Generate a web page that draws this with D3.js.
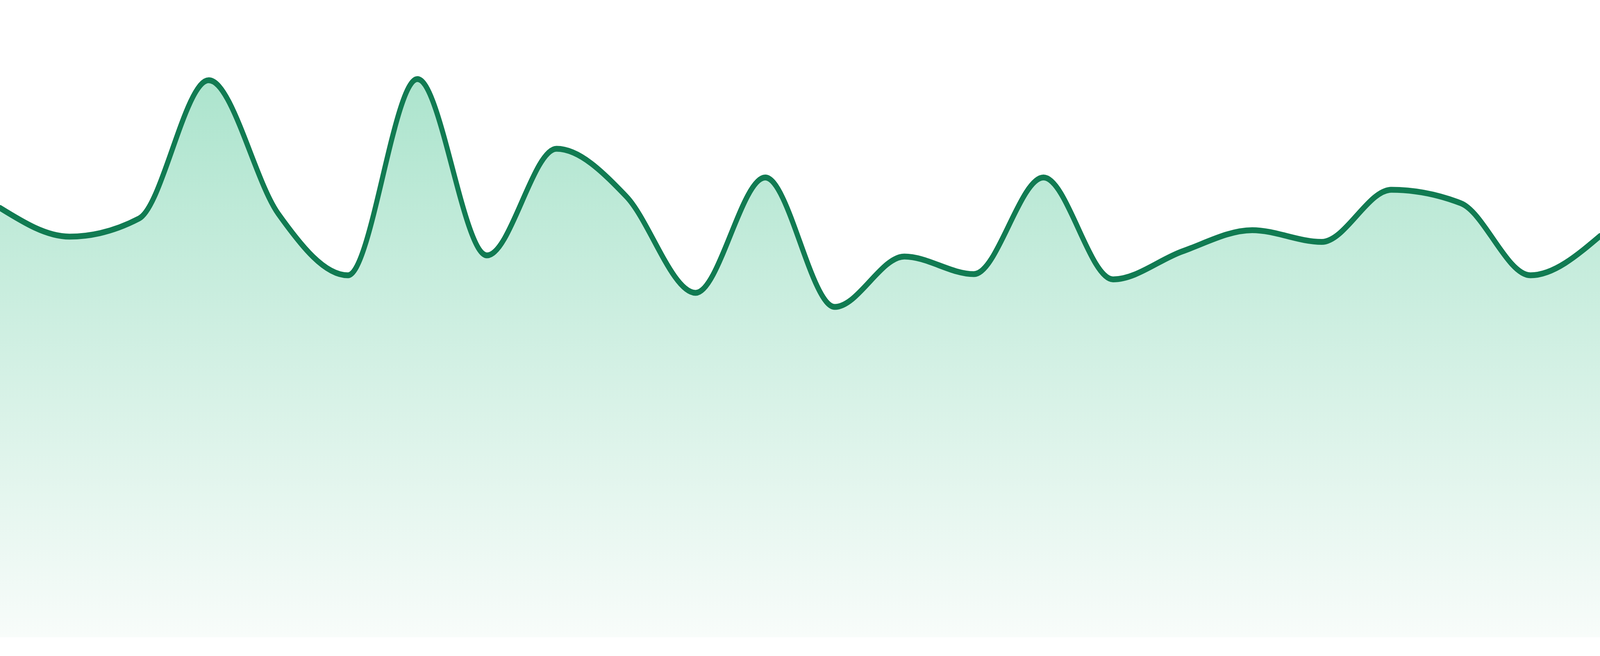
<!DOCTYPE html>
<html>
<head>
<meta charset="utf-8">
<script src="https://cdn.jsdelivr.net/npm/d3@7"></script>
<style>
  html, body { margin: 0; padding: 0; background: #ffffff; overflow: hidden; width: 100%; height: 100%; }
  svg { display: block; width: 100vw; height: 100vh; }
</style>
</head>
<body>
<svg id="chart" viewBox="0 0 4800 1680" preserveAspectRatio="none"></svg>
<script>
// Data
const categories = d3.range(24).map(i => "P" + (i + 1));
const values = [73.3, 68.4, 71.5, 95.1, 72.3, 61.8, 95.3, 65.2, 83.4, 75.3, 58.8, 78.5,
                56.4, 65.0, 62.0, 78.5, 61.1, 65.9, 69.5, 67.5, 76.4, 74.1, 61.8, 68.5];

const W = 4800, H = 1680;
const baseY = 1632;

const svg = d3.select("#chart");

const x = d3.scalePoint().domain(categories).range([0, W]);
const y = d3.scaleLinear().domain([0, 100]).range([baseY, 132]);

const data = categories.map((c, i) => ({ c, v: values[i] }));

const defs = svg.append("defs");
const grad = defs.append("linearGradient")
  .attr("id", "fillGrad")
  .attr("gradientUnits", "userSpaceOnUse")
  .attr("x1", 0).attr("x2", 0)
  .attr("y1", 195).attr("y2", baseY);
grad.append("stop").attr("offset", 0).attr("stop-color", "rgb(172,228,205)");
grad.append("stop").attr("offset", 1).attr("stop-color", "rgb(248,252,250)");

const area = d3.area()
  .x(d => x(d.c))
  .y0(baseY)
  .y1(d => y(d.v))
  .curve(d3.curveMonotoneX);

const line = d3.line()
  .x(d => x(d.c))
  .y(d => y(d.v))
  .curve(d3.curveMonotoneX);

svg.append("path")
  .datum(data)
  .attr("d", area)
  .attr("fill", "url(#fillGrad)");

svg.append("path")
  .datum(data)
  .attr("d", line)
  .attr("fill", "none")
  .attr("stroke", "#117b52")
  .attr("stroke-width", 15)
  .attr("stroke-linejoin", "round")
  .attr("stroke-linecap", "round");
</script>
</body>
</html>
